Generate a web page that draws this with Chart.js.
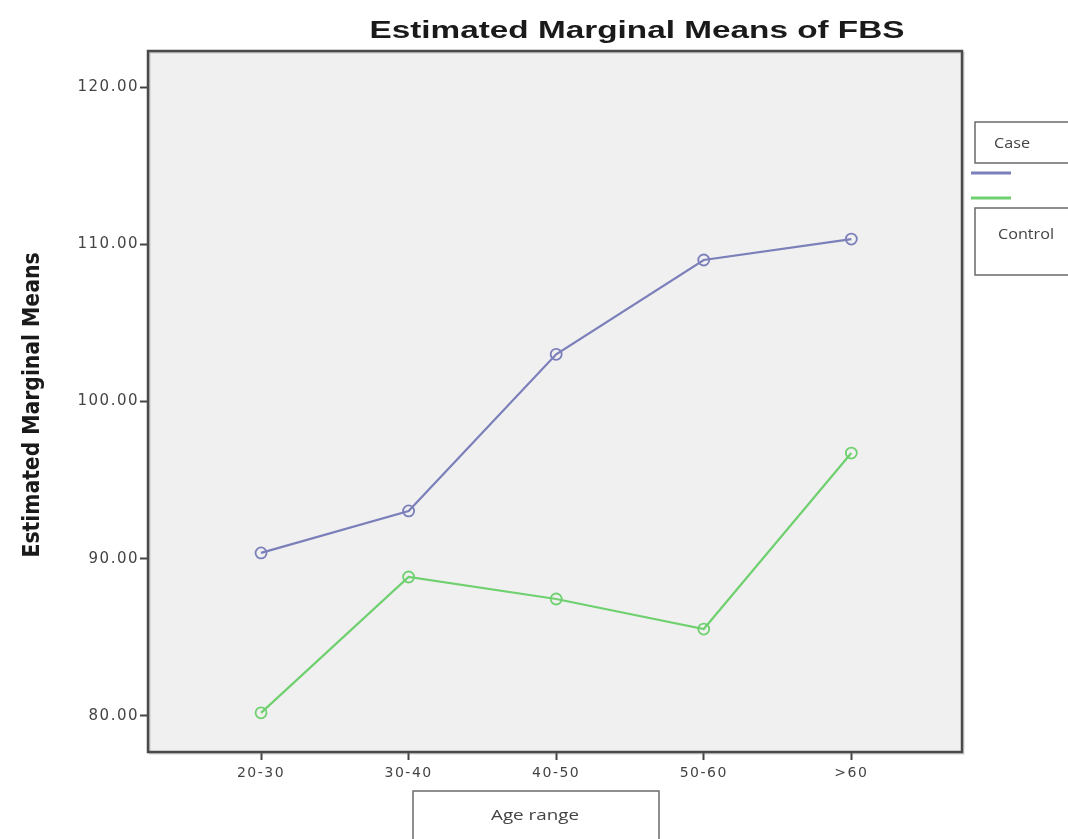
<!DOCTYPE html>
<html>
<head>
<meta charset="utf-8">
<script src="https://cdn.jsdelivr.net/npm/chart.js@4.4.1/dist/chart.umd.min.js"></script>
<style>
html,body{margin:0;padding:0;background:#ffffff;}
#wrap{width:1068px;height:839px;position:relative;}
canvas{display:block;}
</style>
</head>
<body>
<div id="wrap"><canvas id="c" width="1068" height="839"></canvas></div>
<script>
// ---- data ----
const chartTitle = 'Estimated Marginal Means of FBS';
const yAxisTitle = 'Estimated Marginal Means';
const xAxisTitle = 'Age range';
const ageRanges = ['20-30', '30-40', '40-50', '50-60', '>60'];
const seriesNames = ['Case', 'Control'];
const caseMeans = [90.37, 93.04, 103.0, 109.0, 110.33];
const controlMeans = [80.2, 88.84, 87.44, 85.53, 96.72];
const yTickValues = [80, 90, 100, 110, 120];

// ---- styles ----
const caseColor = '#7b7fba';
const controlColor = '#6fd06f';

function toPoints(arr) { return arr.map((v, i) => ({ x: i, y: v })); }

// draw text horizontally fitted to a target width
function fitText(ctx, text, cx, baseY, targetW, font, color) {
  ctx.save();
  ctx.font = font;
  ctx.fillStyle = color;
  ctx.textAlign = 'center';
  ctx.textBaseline = 'alphabetic';
  const w = ctx.measureText(text).width;
  ctx.translate(cx, baseY);
  ctx.scale(targetW / w, 1);
  ctx.fillText(text, 0, 0);
  ctx.restore();
}

const decorPlugin = {
  id: 'decor',
  beforeDraw(chart) {
    const ctx = chart.ctx, a = chart.chartArea;
    ctx.save();
    ctx.fillStyle = '#ffffff';
    ctx.fillRect(0, 0, chart.width, chart.height);
    ctx.fillStyle = '#f0f0f0';
    ctx.fillRect(a.left, a.top, a.right - a.left, a.bottom - a.top);
    ctx.restore();
    ctx.letterSpacing = '1.5px';
  },
  beforeDatasetsDraw(chart) {
    chart.ctx.letterSpacing = '0px';
  },
  afterDraw(chart) {
    const ctx = chart.ctx, a = chart.chartArea;
    ctx.save();
    ctx.letterSpacing = '0px';
    // plot frame
    ctx.strokeStyle = 'rgba(120,120,120,0.35)';
    ctx.lineWidth = 2;
    ctx.strokeRect(a.left + 1.5, a.top + 1.5, a.right - a.left, a.bottom - a.top);
    ctx.strokeStyle = '#4a4a4a';
    ctx.lineWidth = 2.5;
    ctx.strokeRect(a.left, a.top, a.right - a.left, a.bottom - a.top);

    // title
    fitText(ctx, chartTitle, 637, 38, 535, 'bold 23px "Liberation Sans", Arial, sans-serif', '#1a1a1a');

    // y axis title (rotated)
    ctx.save();
    ctx.translate(39, 405);
    ctx.rotate(-Math.PI / 2);
    fitText(ctx, yAxisTitle, 0, 0, 305, 'bold 23px "Liberation Sans Narrow", "DejaVu Sans Condensed", "Liberation Sans", sans-serif', '#1a1a1a');
    ctx.restore();

    // legend (from dataset labels/colours)
    const ds = chart.data.datasets;
    ctx.strokeStyle = '#6a6a6a';
    ctx.lineWidth = 1.5;
    ctx.strokeRect(975, 122, 110, 41);
    ctx.strokeRect(975, 208, 110, 67);
    fitText(ctx, ds[0].label, 1012, 148, 36, '14px "Open Sans", "DejaVu Sans", sans-serif', '#444');
    fitText(ctx, ds[1].label, 1026, 239, 56, '14px "Open Sans", "DejaVu Sans", sans-serif', '#444');
    ctx.lineWidth = 3;
    ctx.strokeStyle = ds[0].borderColor;
    ctx.beginPath(); ctx.moveTo(971, 173); ctx.lineTo(1011, 173); ctx.stroke();
    ctx.strokeStyle = ds[1].borderColor;
    ctx.beginPath(); ctx.moveTo(971, 198); ctx.lineTo(1011, 198); ctx.stroke();

    // x axis title box
    ctx.strokeStyle = '#6a6a6a';
    ctx.lineWidth = 1.5;
    ctx.strokeRect(413, 791, 246, 60);
    fitText(ctx, xAxisTitle, 535, 820, 88, '14px "Open Sans", "DejaVu Sans", sans-serif', '#444');
    ctx.restore();
  }
};

const ctx = document.getElementById('c').getContext('2d');
new Chart(ctx, {
  type: 'line',
  data: {
    datasets: [
      {
        label: seriesNames[0],
        data: toPoints(caseMeans),
        borderColor: caseColor,
        borderWidth: 2.2,
        pointRadius: 5.5,
        pointBorderWidth: 1.8,
        pointBackgroundColor: 'rgba(0,0,0,0)',
        pointBorderColor: caseColor,
        tension: 0
      },
      {
        label: seriesNames[1],
        data: toPoints(controlMeans),
        borderColor: controlColor,
        borderWidth: 2.2,
        pointRadius: 5.5,
        pointBorderWidth: 1.8,
        pointBackgroundColor: 'rgba(0,0,0,0)',
        pointBorderColor: controlColor,
        tension: 0
      }
    ]
  },
  options: {
    responsive: false,
    animation: false,
    events: [],
    layout: { padding: { top: 51, right: 106, left: 0, bottom: 0 } },
    plugins: { legend: { display: false }, title: { display: false }, tooltip: { enabled: false } },
    scales: {
      x: {
        type: 'linear',
        min: -0.766,
        max: 4.75,
        afterBuildTicks: s => { s.ticks = ageRanges.map((_, i) => ({ value: i })); },
        afterFit: s => { s.height = 87; },
        border: { display: false },
        grid: { drawOnChartArea: false, drawTicks: true, tickLength: 8, tickColor: '#444', tickWidth: 2 },
        ticks: {
          callback: v => ageRanges[v],
          autoSkip: false, maxRotation: 0, padding: 5,
          color: '#444',
          font: { family: '"DejaVu Sans", sans-serif', size: 14 }
        }
      },
      y: {
        type: 'linear',
        min: 77.71,
        max: 122.29,
        afterBuildTicks: s => { s.ticks = yTickValues.map(v => ({ value: v })); },
        afterFit: s => { s.width = 148; },
        border: { display: false },
        grid: { drawOnChartArea: false, drawTicks: true, tickLength: 8, tickColor: '#444', tickWidth: 2 },
        ticks: {
          callback: v => Number(v).toFixed(2),
          padding: 1,
          color: '#444',
          font: { family: '"DejaVu Sans", sans-serif', size: 15 }
        }
      }
    }
  },
  plugins: [decorPlugin]
});
</script>
</body>
</html>
